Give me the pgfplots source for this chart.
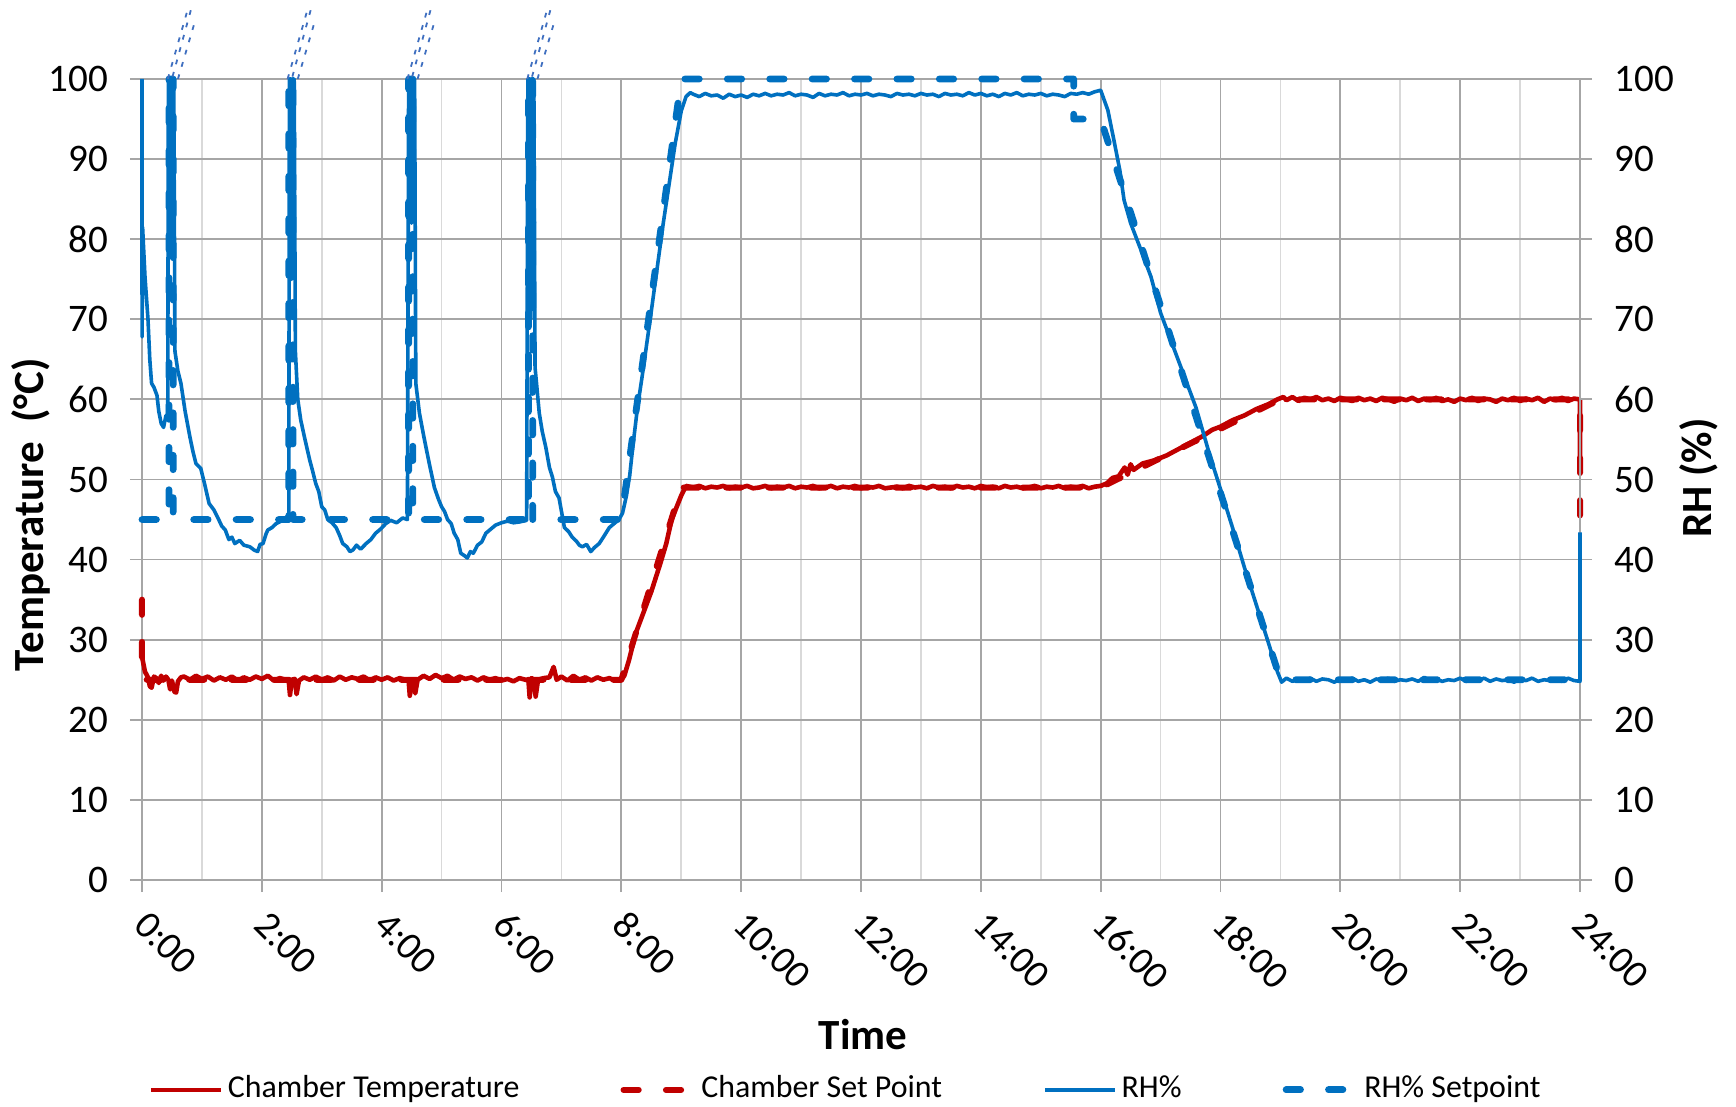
\documentclass[border=0pt]{standalone}
\usepackage{fontspec}
\setmainfont{Carlito}
\usepackage{pgfplots}
\pgfplotsset{compat=1.18}
\definecolor{tred}{HTML}{C00000}
\definecolor{rhblue}{HTML}{0070C0}
\definecolor{gmaj}{HTML}{A6A6A6}
\definecolor{gmin}{HTML}{D9D9D9}
\definecolor{brk}{HTML}{3F6FC0}
\pgfplotsset{
  base/.style={scale only axis, width=359.5bp, height=200.25bp,
    xmin=0, xmax=24, ymin=0, ymax=100, clip=false,
    /pgf/number format/assume math mode=true,
    ytick={0,10,...,100},
    tick label style={font=\fontsize{9.8}{11}\selectfont},
    major tick length=3bp, minor tick length=0bp, tick align=outside,
    tick style={gmaj, line width=0.45bp},
    axis line style={gmaj, line width=0.45bp}},
  tsol/.style={tred, line width=1.15bp, line join=round},
  tdash/.style={tred, line width=1.5bp, line cap=round, line join=round, dash pattern=on 3.8bp off 6.8bp},
  rsol/.style={rhblue, line width=0.9bp, line join=round},
  rdash/.style={rhblue, line width=1.7bp, line cap=round, line join=round, dash pattern=on 3.6bp off 7bp},
  brkst/.style={brk, line width=0.45bp, dash pattern=on 1.2bp off 2.0bp, forget plot}
}
\begin{document}
\begin{tikzpicture}
\begin{axis}[base,
  axis x line*=bottom, axis y line*=left,
  xtick={0,2,...,24},
  xticklabels={0:00,2:00,4:00,6:00,8:00,10:00,12:00,14:00,16:00,18:00,20:00,22:00,24:00},
  minor xtick={1,3,...,23},
  grid=both,
  major grid style={gmaj, line width=0.45bp},
  minor grid style={gmin, line width=0.45bp},
  xticklabel style={xshift=2.1bp, yshift=-4bp, rotate=-45, anchor=north west, inner sep=0pt},
  yticklabel style={xshift=-2.0bp},
  xlabel={Time},
  xlabel style={at={(axis description cs:0.5014,-0.1935)}, anchor=center, font=\fontsize{10.8}{12}\selectfont\bfseries},
  ylabel={Temperature\ \ (°C)},
  ylabel style={at={(axis description cs:-0.0772,0.456)}, anchor=center, font=\fontsize{10.8}{12}\selectfont\bfseries},
]
\coordinate (bl) at (rel axis cs:0,0);
\coordinate (tr) at (rel axis cs:1,1);
% Chamber Set Point
\addplot[tdash] coordinates {(0,35) (0,25) (8,25) (9,49) (16,49) (19,60) (24,60) (24,44)};
% Chamber Temperature
\addplot[tsol] coordinates {
(0.00,30.0) (0.01,27.5) (0.05,26.0) (0.10,25.3) (0.13,24.2) (0.16,24.0) (0.20,25.4) (0.24,25.2) (0.28,24.6) (0.32,25.5) (0.36,24.9) (0.40,25.4) (0.44,25.0) (0.47,23.8) (0.50,24.9) (0.54,23.5) (0.57,23.4) (0.60,24.8) (0.65,25.3)
(0.7,25.4) (0.8,25.0) (0.9,25.5) (1.0,25.1) (1.1,25.4) (1.2,24.9) (1.3,25.3) (1.4,25.0) (1.5,25.4) (1.6,24.9) (1.7,25.3) (1.8,25.0) (1.9,25.4) (2.0,25.1) (2.1,25.5) (2.2,24.9) (2.3,25.2) (2.4,25.0)
(2.45,24.8) (2.47,23.1) (2.50,25.0) (2.55,25.1) (2.58,23.2) (2.62,24.9) (2.7,25.3) (2.8,25.0) (2.9,25.4) (3.0,25.0) (3.1,25.3) (3.2,24.9) (3.3,25.4) (3.4,25.0) (3.5,25.3) (3.6,25.1) (3.7,25.4) (3.8,24.9) (3.9,25.3) (4.0,25.0) (4.1,25.3) (4.2,24.9) (4.3,25.2) (4.4,25.0)
(4.45,24.9) (4.47,23.0) (4.50,24.9) (4.53,24.8) (4.56,23.3) (4.60,25.0) (4.7,25.5) (4.8,25.1) (4.9,25.6) (5.0,25.2) (5.1,25.5) (5.2,25.0) (5.3,25.4) (5.4,25.1) (5.5,25.3) (5.6,24.9) (5.7,25.3) (5.8,25.0) (5.9,25.2) (6.0,24.9) (6.1,25.1) (6.2,24.8) (6.3,25.2) (6.4,25.0)
(6.45,24.9) (6.47,22.8) (6.50,25.2) (6.54,25.0) (6.57,22.9) (6.61,25.0) (6.7,25.2) (6.8,25.3) (6.87,26.6) (6.92,25.0) (7.0,25.4) (7.1,24.9) (7.2,25.5) (7.3,25.0) (7.4,25.3) (7.5,24.9) (7.6,25.3) (7.7,25.0) (7.8,25.2) (7.9,24.9) (8.0,25.0)
(8.05,25.5) (8.13,27.5) (8.24,30.8) (8.35,33.0) (8.5,36.0) (8.65,39.5) (8.75,42.0) (8.84,45.0) (8.92,46.5) (9.0,48.0) (9.08,49.2)
(9.2,49.0) (9.3,49.2) (9.4,48.9) (9.5,49.1) (9.6,49.0) (9.7,49.2) (9.8,48.9) (9.9,49.1) (10.0,49.0) (10.1,49.2) (10.2,48.9) (10.3,49.0) (10.4,49.2) (10.5,48.9) (10.6,49.1) (10.7,49.0) (10.8,49.2) (10.9,48.9) (11.0,49.1) (11.1,49.0) (11.2,49.2) (11.3,48.9) (11.4,49.0) (11.5,49.2) (11.6,48.9) (11.7,49.1) (11.8,49.0) (11.9,49.2) (12.0,48.9) (12.1,49.1) (12.2,49.0) (12.3,49.2) (12.4,48.9) (12.5,49.0) (12.6,49.1) (12.7,48.9) (12.8,49.2) (12.9,49.0) (13.0,49.1) (13.1,48.9) (13.2,49.2) (13.3,49.0) (13.4,49.1) (13.5,48.9) (13.6,49.2) (13.7,49.0) (13.8,49.1) (13.9,48.9) (14.0,49.2) (14.1,49.0) (14.2,49.1) (14.3,48.9) (14.4,49.2) (14.5,49.0) (14.6,49.1) (14.7,48.9) (14.8,49.0) (14.9,49.2) (15.0,48.9) (15.1,49.1) (15.2,49.0) (15.3,49.2) (15.4,48.9) (15.5,49.1) (15.6,49.0) (15.7,49.2) (15.8,48.9) (15.9,49.1) (16.0,49.2)
(16.1,49.5) (16.2,50.2) (16.3,50.4) (16.4,51.5) (16.45,50.6) (16.5,51.9) (16.55,51.2) (16.7,52.0) (16.9,52.4) (17.1,53.0) (17.3,53.8) (17.5,54.6) (17.7,55.4) (17.86,56.2) (18.0,56.6) (18.2,57.4) (18.4,58.0) (18.6,58.8) (18.8,59.4) (18.95,60.0) (19.05,60.3)
(19.1,59.9) (19.2,60.3) (19.3,59.8) (19.4,60.2) (19.5,60.0) (19.6,60.3) (19.7,59.9) (19.8,60.1) (19.9,59.8) (20.0,60.2) (20.1,60.0) (20.2,59.8) (20.3,60.2) (20.4,59.9) (20.5,60.1) (20.6,59.8) (20.7,60.2) (20.8,60.0) (20.9,59.7) (21.0,60.1) (21.1,59.9) (21.2,60.2) (21.3,59.8) (21.4,60.1) (21.5,59.9) (21.6,60.2) (21.7,59.8) (21.8,60.0) (21.9,59.7) (22.0,60.1) (22.1,59.9) (22.2,60.2) (22.3,59.8) (22.4,60.1) (22.5,60.0) (22.6,59.7) (22.7,60.1) (22.8,59.9) (22.9,60.2) (23.0,59.8) (23.1,60.1) (23.2,59.9) (23.3,60.2) (23.4,59.7) (23.5,60.1) (23.6,59.9) (23.7,60.2) (23.8,59.8) (23.9,60.1) (24.0,60.0) (24.0,51.5)
};
\end{axis}
\begin{axis}[base,
  axis y line*=right, axis x line=none,
  yticklabel style={xshift=2.1bp},
  ylabel={RH (\%)},
  ylabel style={at={(axis description cs:1.0827,0.502)}, anchor=center, font=\fontsize{10.8}{12}\selectfont\bfseries},
  legend columns=4,
  legend style={at={(axis description cs:0.4913,-0.262)}, anchor=center, draw=none, fill=none,
    font=\fontsize{8}{9.6}\selectfont,
    /tikz/every even column/.append style={column sep=23.3bp},
    /tikz/every odd column/.append style={column sep=-0.8bp}},
  legend cell align=left,
  legend image code/.code={\draw[#1] (0bp,0bp) -- (17.5bp,0bp);},
]
% RH% Setpoint
\addplot[rdash, forget plot] coordinates {(0,45) (0.45,45) (0.45,100) (0.52,100) (0.52,45) (2.45,45) (2.45,100) (2.52,100) (2.52,45) (4.45,45) (4.45,100) (4.52,100) (4.52,45) (6.45,45) (6.45,100) (6.52,100) (6.52,45) (8,45) (9,100) (15.55,100) (15.55,95) (16,95) (19,25) (24,25)};
% RH%
\addplot[rsol, forget plot] coordinates {
(0,100) (0.001,67.8) (0.01,81.5) (0.05,75.3) (0.10,70.0) (0.13,65.0) (0.16,62.0) (0.20,61.5) (0.25,60.5) (0.28,58.5) (0.32,57.0) (0.36,56.5) (0.40,58.0) (0.43,57.5)
(0.44,100) (0.47,100) (0.48,80) (0.49,100) (0.53,100) (0.55,66) (0.60,63.5) (0.65,62.0) (0.72,58.5) (0.80,55.3) (0.85,53.5) (0.90,52.0) (0.98,51.4) (1.04,49.6) (1.12,47.0) (1.20,46.2) (1.28,45.0) (1.33,44.2) (1.39,43.7) (1.45,42.5) (1.50,42.8) (1.55,42.0) (1.63,42.4) (1.70,41.8) (1.80,41.6) (1.87,41.2) (1.93,41.0) (1.97,41.9) (2.02,42.0) (2.07,43.2) (2.10,43.7) (2.17,44.0) (2.24,44.5) (2.32,44.8) (2.41,45.3) (2.45,45.5)
(2.46,100) (2.49,100) (2.50,75) (2.51,100) (2.54,100) (2.56,66) (2.60,60) (2.65,57.4) (2.72,55) (2.80,52.4) (2.85,51) (2.90,49.5) (2.95,48.5) (3.00,46.6) (3.05,46.2) (3.10,45.0) (3.17,44.6) (3.24,44.0) (3.30,43.0) (3.35,42.0) (3.42,41.6) (3.47,41.0) (3.52,41.2) (3.58,41.8) (3.65,41.3) (3.74,42.0) (3.82,42.5) (3.90,43.3) (3.98,43.8) (4.07,44.5) (4.15,44.9) (4.25,44.6) (4.35,45.2) (4.43,45.0)
(4.45,100) (4.49,100) (4.50,82) (4.51,100) (4.55,100) (4.57,62) (4.63,58.3) (4.70,55.5) (4.74,54.0) (4.80,51.8) (4.88,49.0) (4.95,47.5) (5.00,46.6) (5.05,46.0) (5.10,45.0) (5.16,44.5) (5.21,43.3) (5.27,42.5) (5.32,40.8) (5.38,40.5) (5.43,40.2) (5.48,41.0) (5.53,40.8) (5.60,41.8) (5.67,42.2) (5.74,43.3) (5.82,43.8) (5.90,44.3) (6.00,44.6) (6.10,44.8) (6.20,44.6) (6.30,44.7) (6.42,44.9)
(6.44,100) (6.48,100) (6.49,70) (6.50,100) (6.54,100) (6.56,64) (6.63,58.3) (6.68,56.0) (6.74,54.0) (6.80,51.5) (6.85,50.3) (6.90,48.5) (6.96,47.7) (7.05,44.0) (7.12,43.5) (7.18,42.8) (7.25,42.3) (7.30,41.8) (7.35,41.6) (7.42,41.9) (7.49,41.0) (7.55,41.5) (7.63,42.0) (7.70,42.8) (7.80,44.0) (7.88,44.5) (7.96,45.0)
(8.02,45.8) (8.08,47.8) (8.14,50.5) (8.19,54.0) (8.27,59.0) (8.35,63.0) (8.5,71) (8.7,82) (8.9,92) (9.0,96) (9.08,97.8) (9.15,98.3)
(9.2,98.1) (9.3,97.8) (9.4,98.2) (9.5,97.9) (9.6,98.0) (9.7,97.6) (9.8,98.1) (9.9,97.8) (10.0,98.0) (10.1,97.7) (10.2,98.1) (10.3,97.9) (10.4,98.2) (10.5,97.9) (10.6,98.1) (10.7,98.0) (10.8,98.3) (10.9,97.9) (11.0,98.1) (11.1,98.0) (11.2,97.7) (11.3,98.2) (11.4,97.9) (11.5,98.1) (11.6,98.0) (11.7,98.3) (11.8,97.9) (11.9,98.1) (12.0,98.0) (12.1,98.2) (12.2,97.9) (12.3,98.1) (12.4,98.0) (12.5,97.8) (12.6,98.2) (12.7,98.0) (12.8,98.1) (12.9,97.9) (13.0,98.2) (13.1,98.0) (13.2,98.1) (13.3,97.8) (13.4,98.2) (13.5,98.0) (13.6,98.1) (13.7,97.9) (13.8,98.3) (13.9,98.0) (14.0,98.2) (14.1,97.9) (14.2,98.1) (14.3,97.8) (14.4,98.2) (14.5,98.0) (14.6,98.3) (14.7,97.9) (14.8,98.1) (14.9,98.0) (15.0,98.2) (15.1,97.9) (15.2,98.1) (15.3,98.0) (15.4,97.8) (15.5,98.2) (15.6,98.1) (15.7,98.3) (15.8,98.1) (15.9,98.4) (16.0,98.6)
(16.12,96.1) (16.22,92.4) (16.32,88.6) (16.39,84.9) (16.50,82.0) (16.67,78.7) (16.84,75.3) (17.00,70.8) (17.25,65.8) (17.42,62.4) (17.59,59.0) (17.83,52.8) (18.00,48.8) (18.2,44.0) (18.4,39.0) (18.6,34.3) (18.8,29.6) (18.95,26.0) (19.02,24.7)
(19.1,25.2) (19.2,24.8) (19.3,25.1) (19.4,24.9) (19.5,25.2) (19.6,24.8) (19.7,25.1) (19.8,25.0) (19.9,24.7) (20.0,25.1) (20.1,24.9) (20.2,25.2) (20.3,24.8) (20.4,25.0) (20.5,24.7) (20.6,25.1) (20.7,24.9) (20.8,25.2) (20.9,24.8) (21.0,25.0) (21.1,24.9) (21.2,25.1) (21.3,24.8) (21.4,25.3) (21.5,24.9) (21.6,25.1) (21.7,24.8) (21.8,25.0) (21.9,24.9) (22.0,25.2) (22.1,24.8) (22.2,25.0) (22.3,24.9) (22.4,25.2) (22.5,24.8) (22.6,25.1) (22.7,24.9) (22.8,25.0) (22.9,24.7) (23.0,25.1) (23.1,24.9) (23.2,25.2) (23.3,24.8) (23.4,25.0) (23.5,24.9) (23.6,25.1) (23.7,24.8) (23.8,25.2) (23.9,24.9) (24.0,24.8) (24.0,43.4)
};
% break marks above the spikes
\addplot[brkst] coordinates {(0.43,100) (0.76,108.6)};
\addplot[brkst] coordinates {(0.51,100.3) (0.83,109.0)};
\addplot[brkst] coordinates {(0.60,100) (0.90,107.6)};
\addplot[brkst] coordinates {(2.43,100) (2.76,108.6)};
\addplot[brkst] coordinates {(2.51,100.3) (2.83,109.0)};
\addplot[brkst] coordinates {(2.60,100) (2.90,107.6)};
\addplot[brkst] coordinates {(4.43,100) (4.76,108.6)};
\addplot[brkst] coordinates {(4.51,100.3) (4.83,109.0)};
\addplot[brkst] coordinates {(4.60,100) (4.90,107.6)};
\addplot[brkst] coordinates {(6.43,100) (6.76,108.6)};
\addplot[brkst] coordinates {(6.51,100.3) (6.83,109.0)};
\addplot[brkst] coordinates {(6.60,100) (6.90,107.6)};
\addlegendimage{tsol}
\addlegendentry{Chamber Temperature}
\addlegendimage{tdash}
\addlegendentry{Chamber Set Point}
\addlegendimage{rsol}
\addlegendentry{RH\%}
\addlegendimage{rdash}
\addlegendentry{RH\% Setpoint}
\end{axis}
\pgfresetboundingbox
\path ([shift={(-35.5bp,-56.75bp)}]bl) rectangle ([shift={(39bp,19.75bp)}]tr);
\end{tikzpicture}
\end{document}
